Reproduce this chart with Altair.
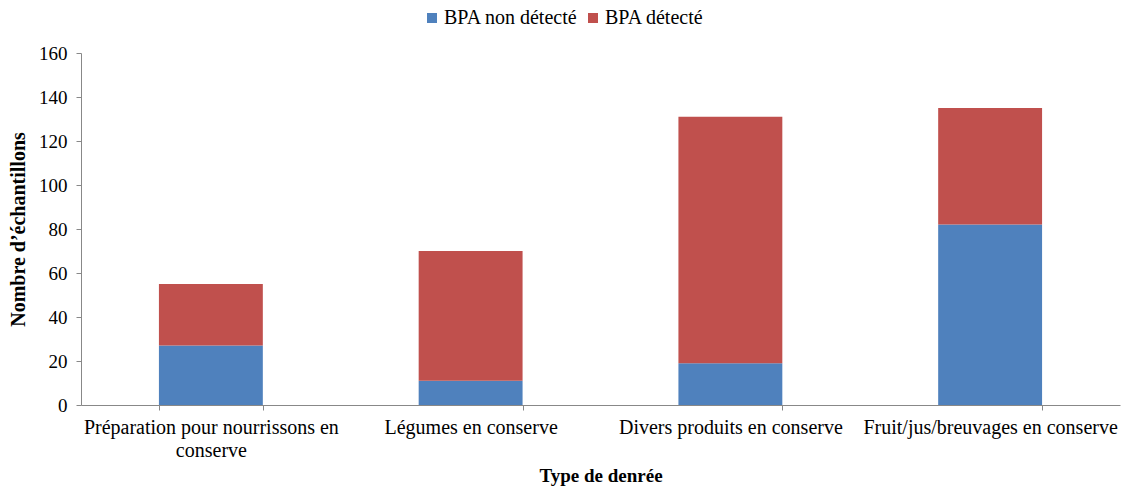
import altair as alt
import pandas as pd

categories = [
    "Préparation pour nourrissons en conserve",
    "Légumes en conserve",
    "Divers produits en conserve",
    "Fruit/jus/breuvages en conserve",
]
series = ["BPA non détecté", "BPA détecté"]
non_detecte = [27, 11, 19, 82]
detecte = [28, 59, 112, 53]
colors = ["#4F81BD", "#C0504D"]

rows = []
for c, a, b in zip(categories, non_detecte, detecte):
    rows.append({"cat": c, "serie": series[0], "val": a, "ord": 0})
    rows.append({"cat": c, "serie": series[1], "val": b, "ord": 1})
df = pd.DataFrame(rows)

font = "Liberation Serif"

chart = alt.Chart(df).mark_bar().encode(
    x=alt.X(
        "cat:N",
        sort=categories,
        scale=alt.Scale(paddingInner=0.6, paddingOuter=0.3),
        axis=alt.Axis(
            title="Type de denrée",
            labelAngle=0,
            labelExpr="datum.value == 'Préparation pour nourrissons en conserve' ? ['Préparation pour nourrissons en', 'conserve'] : datum.value",
            tickBand="extent",
            labelFontSize=20,
            labelFont=font,
            labelColor="#000",
            labelPadding=7,
            labelLineHeight=23,
            labelLimit=0,
            titleFont=font,
            titleFontSize=19,
            titleFontWeight="bold",
            titleColor="#000",
            titlePadding=6,
            domainColor="#888",
            tickColor="#888",
            tickSize=5,
            grid=False,
        ),
    ),
    y=alt.Y(
        "val:Q",
        stack="zero",
        scale=alt.Scale(domain=[0, 160]),
        axis=alt.Axis(
            title="Nombre d’échantillons",
            values=list(range(0, 161, 20)),
            labelFontSize=19,
            labelFont=font,
            labelColor="#000",
            labelPadding=9,
            titleFont=font,
            titleFontSize=20,
            titleFontWeight="bold",
            titleColor="#000",
            titlePadding=10,
            domainColor="#888",
            tickColor="#888",
            tickSize=5,
            grid=False,
        ),
    ),
    color=alt.Color(
        "serie:N",
        scale=alt.Scale(domain=series, range=colors),
        legend=alt.Legend(
            title=None,
            orient="none",
            legendX=341,
            legendY=-45,
            direction="horizontal",
            symbolType="square",
            symbolSize=100,
            symbolStrokeWidth=0,
            labelFont=font,
            labelFontSize=20,
            labelColor="#000",
            columnPadding=5,
            labelOffset=2,
            labelLimit=0,
        ),
    ),
    order=alt.Order("ord:Q"),
).properties(
    width=1039,
    height=352,
    autosize=alt.AutoSizeParams(type="none"),
    padding={"left": 81, "top": 53, "right": 2, "bottom": 82},
).configure_view(stroke=None)

chart.save("out.html", embed_options={"renderer": "svg", "actions": False})
